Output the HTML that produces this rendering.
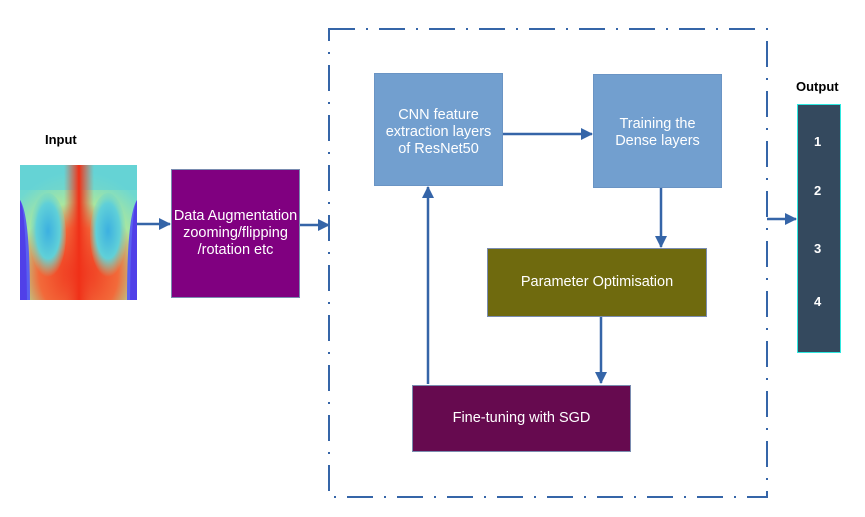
<!DOCTYPE html>
<html><head><meta charset="utf-8"><style>
html,body{margin:0;padding:0;background:#fff;}
body{width:865px;height:517px;position:relative;overflow:hidden;font-family:"Liberation Sans",sans-serif;}
.b{position:absolute;box-sizing:border-box;color:#fff;display:flex;align-items:center;justify-content:center;text-align:center;font-size:14.5px;line-height:17px;}
.lbl{position:absolute;font-weight:bold;font-size:13px;color:#000;}
</style></head><body>
<svg width="865" height="517" style="position:absolute;left:0;top:0">
<defs>
<radialGradient id="body" cx="50%" cy="80%" r="75%">
<stop offset="0" stop-color="#f0301a"/><stop offset="0.45" stop-color="#f26a3a"/><stop offset="0.7" stop-color="#a8e6a0"/><stop offset="1" stop-color="#6fd8d0"/>
</radialGradient>
<radialGradient id="lung" cx="50%" cy="45%" r="55%">
<stop offset="0" stop-color="#3cb0e0"/><stop offset="0.6" stop-color="#60d0d8"/><stop offset="1" stop-color="#90e0b0" stop-opacity="0"/>
</radialGradient>
<linearGradient id="spine" x1="0" x2="1"><stop offset="0" stop-color="#f05030" stop-opacity="0"/><stop offset="0.5" stop-color="#f03018"/><stop offset="1" stop-color="#f05030" stop-opacity="0"/></linearGradient>
<marker id="a" markerWidth="12" markerHeight="12" refX="11" refY="6" orient="auto" markerUnits="userSpaceOnUse"><path d="M0,0 L12,6 L0,12z" fill="#3565a8"/></marker>
</defs>
<rect x="20" y="165" width="117" height="135" fill="url(#body)"/>
<rect x="20" y="165" width="117" height="25" fill="#5fd0d8" opacity="0.6"/>
<ellipse cx="48" cy="235" rx="18" ry="42" fill="url(#lung)"/>
<ellipse cx="108" cy="235" rx="18" ry="42" fill="url(#lung)"/>
<rect x="64" y="165" width="30" height="135" fill="url(#spine)"/>
<path d="M20,200 Q30,215 30,300 L20,300z" fill="#5a60f0"/>
<path d="M137,200 Q127,215 127,300 L137,300z" fill="#5a60f0"/>
<path d="M20,200 Q26,210 27,300 L20,300z" fill="#5040e8"/>
<path d="M137,200 Q131,210 130,300 L137,300z" fill="#5040e8"/>
<rect x="329" y="29" width="438" height="468" fill="none" stroke="#3565a8" stroke-width="2" stroke-dasharray="26 11 2 11"/>
<g stroke="#3565a8" stroke-width="2.5" fill="none">
<line x1="137" y1="224" x2="170" y2="224" marker-end="url(#a)"/>
<line x1="299" y1="225" x2="329" y2="225" marker-end="url(#a)"/>
<line x1="503" y1="134" x2="592" y2="134" marker-end="url(#a)"/>
<line x1="661" y1="188" x2="661" y2="247" marker-end="url(#a)"/>
<line x1="601" y1="317" x2="601" y2="383" marker-end="url(#a)"/>
<line x1="428" y1="384" x2="428" y2="187" marker-end="url(#a)"/>
<line x1="767" y1="219" x2="796" y2="219" marker-end="url(#a)"/>
</g>
</svg>
<div class="lbl" style="left:45px;top:132px">Input</div>
<div class="lbl" style="left:796px;top:79px">Output</div>
<div class="b" style="left:171px;top:169px;width:129px;height:129px;background:#800080;border:1px solid #7a8cb0;">Data Augmentation<br>zooming/flipping<br>/rotation etc</div>
<div class="b" style="left:374px;top:73px;width:129px;height:113px;background:#729fcf;border:1px solid #6a94c4;align-items:flex-start;padding-top:33px;">CNN feature<br>extraction layers<br>of ResNet50</div>
<div class="b" style="left:593px;top:74px;width:129px;height:114px;background:#729fcf;border:1px solid #6a94c4;align-items:flex-start;padding-top:41px;">Training the<br>Dense layers</div>
<div class="b" style="left:487px;top:248px;width:220px;height:69px;background:#6f6a0e;border:1px solid #7a8cb0;">Parameter Optimisation</div>
<div class="b" style="left:412px;top:385px;width:219px;height:67px;background:#660a4f;border:1px solid #7a8cb0;">Fine-tuning with SGD</div>
<div class="b" style="left:797px;top:104px;width:44px;height:249px;background:#34495e;border:1px solid #2ee8e0;"></div>
<div class="lbl" style="left:814px;top:134px;color:#fff">1</div>
<div class="lbl" style="left:814px;top:183px;color:#fff">2</div>
<div class="lbl" style="left:814px;top:241px;color:#fff">3</div>
<div class="lbl" style="left:814px;top:294px;color:#fff">4</div>
</body></html>
